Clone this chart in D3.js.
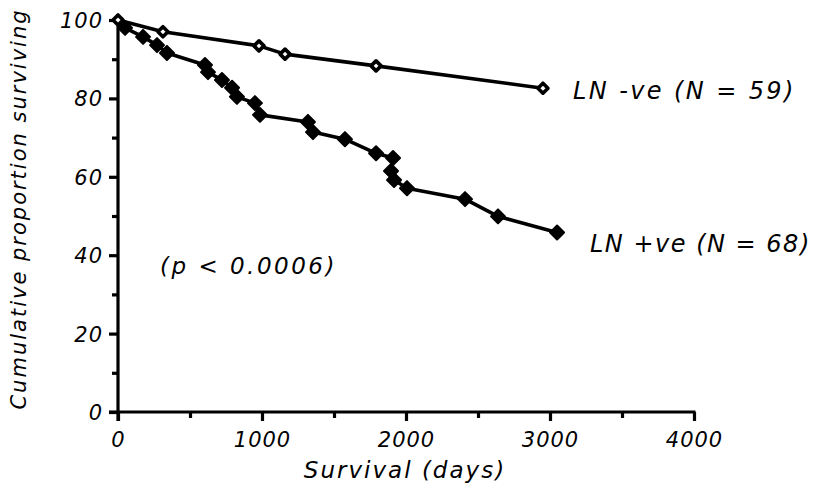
<!DOCTYPE html>
<html>
<head>
<meta charset="utf-8">
<script src="https://cdn.jsdelivr.net/npm/d3@7"></script>
<style>
  html, body { margin: 0; padding: 0; background: #fff; }
  svg { display: block; }
  text { font-family: "DejaVu Sans", sans-serif; font-style: italic; fill: #000; }
</style>
</head>
<body>
<svg id="chart" width="821" height="502"></svg>
<script>
// Kaplan-Meier survival, lymph-node negative vs positive
const negDays = [0, 312, 979, 1160, 1792, 2951];
const negSurv = [100, 97, 93.4, 91.3, 88.3, 82.6];

const posDays = [0, 49, 174, 271, 340, 604, 625, 722, 792, 826, 951, 986, 1319, 1354, 1576, 1792, 1910, 1896, 1917, 2007, 2410, 2639, 3049];
const posSurv = [100, 98, 95.7, 93.6, 91.6, 88.5, 86.7, 84.7, 82.7, 80.4, 78.8, 75.8, 74, 71.4, 69.6, 66, 64.8, 61.5, 59.2, 57.1, 54.3, 49.9, 45.8];

const xMajor = [0, 1000, 2000, 3000, 4000];
const xMinor = [500, 1500, 2500, 3500];
const yMajor = [0, 20, 40, 60, 80, 100];
const yMinor = [10, 30, 50, 70, 90];

const negLabel = "LN -ve (N = 59)";
const posLabel = "LN +ve (N = 68)";
const pLabel = "(p < 0.0006)";
const xTitle = "Survival (days)";
const yTitle = "Cumulative proportion surviving";

const svg = d3.select("#chart");
const x = d3.scaleLinear().domain([0, 4000]).range([118, 694]);
const y = d3.scaleLinear().domain([0, 100]).range([412, 20]);

const ink = "#000";

// axes
function styleAxis(g) {
  g.select(".domain").remove();
  g.selectAll(".tick line").attr("stroke", ink).attr("stroke-width", 3.2);
  g.selectAll(".tick text")
    .style("font-size", "21px")
    .style("letter-spacing", "1px");
}

svg.append("g")
  .attr("transform", `translate(${x(0)},0)`)
  .call(d3.axisLeft(y).tickValues(yMajor).tickSize(9).tickPadding(6).tickFormat(d3.format("d")))
  .call(styleAxis)
  .selectAll(".tick text").attr("dy", "0.36em");

svg.append("g")
  .attr("transform", `translate(${x(0)},0)`)
  .call(d3.axisLeft(y).tickValues(yMinor).tickSize(6).tickFormat(""))
  .call(styleAxis);

svg.append("g")
  .attr("transform", `translate(0,${y(0)})`)
  .call(d3.axisBottom(x).tickValues(xMajor).tickSize(9).tickPadding(11).tickFormat(d3.format("d")))
  .call(styleAxis);

svg.append("g")
  .attr("transform", `translate(0,${y(0)})`)
  .call(d3.axisBottom(x).tickValues(xMinor).tickSize(6).tickFormat(""))
  .call(styleAxis);

// axis lines
svg.append("line")
  .attr("x1", x(0)).attr("x2", x(0))
  .attr("y1", y(100) - 2).attr("y2", y(0) + 9)
  .attr("stroke", ink).attr("stroke-width", 3.2);
svg.append("line")
  .attr("x1", x(0) - 9).attr("x2", x(4000) + 1.5)
  .attr("y1", y(0)).attr("y2", y(0))
  .attr("stroke", ink).attr("stroke-width", 3.2);

// survival curves
const line = d3.line().x(d => x(d[0])).y(d => y(d[1]));
const posData = posDays.map((d, i) => [d, posSurv[i]]);
const negData = negDays.map((d, i) => [d, negSurv[i]]);

svg.append("path").datum(posData).attr("d", line)
  .attr("fill", "none").attr("stroke", ink).attr("stroke-width", 3.6)
  .attr("stroke-linejoin", "round");
svg.append("path").datum(negData).attr("d", line)
  .attr("fill", "none").attr("stroke", ink).attr("stroke-width", 3.6)
  .attr("stroke-linejoin", "round");

const diamond = r => `M0,${-r}L${r},0L0,${r}L${-r},0Z`;

svg.append("g").selectAll("path")
  .data(posData.slice(1))
  .join("path")
  .attr("transform", d => `translate(${x(d[0])},${y(d[1])})`)
  .attr("d", diamond(7))
  .attr("fill", ink).attr("stroke", ink).attr("stroke-width", 2)
  .attr("stroke-linejoin", "round");

svg.append("g").selectAll("path")
  .data(negData)
  .join("path")
  .attr("transform", d => `translate(${x(d[0])},${y(d[1])})`)
  .attr("d", diamond(5))
  .attr("fill", "#fff").attr("stroke", ink).attr("stroke-width", 3.6)
  .attr("stroke-linejoin", "round");

// labels
function label(txt, px, py, size, spacing, anchor) {
  return svg.append("text")
    .attr("x", px).attr("y", py)
    .attr("text-anchor", anchor || "start")
    .style("font-size", size + "px")
    .style("letter-spacing", spacing + "px")
    .text(txt);
}
label(negLabel, 573, 99, 24, 2.4);
label(posLabel, 590, 252, 24, 1.5);
label(pLabel, 160, 274, 23, 2.5);
label(xTitle, 405, 478, 23, 2, "middle");

svg.append("text")
  .attr("transform", `translate(26,${(y(0) + y(100)) / 2 - 7}) rotate(-90)`)
  .attr("text-anchor", "middle")
  .style("font-size", "21px")
  .style("letter-spacing", "2px")
  .text(yTitle);
</script>
</body>
</html>
